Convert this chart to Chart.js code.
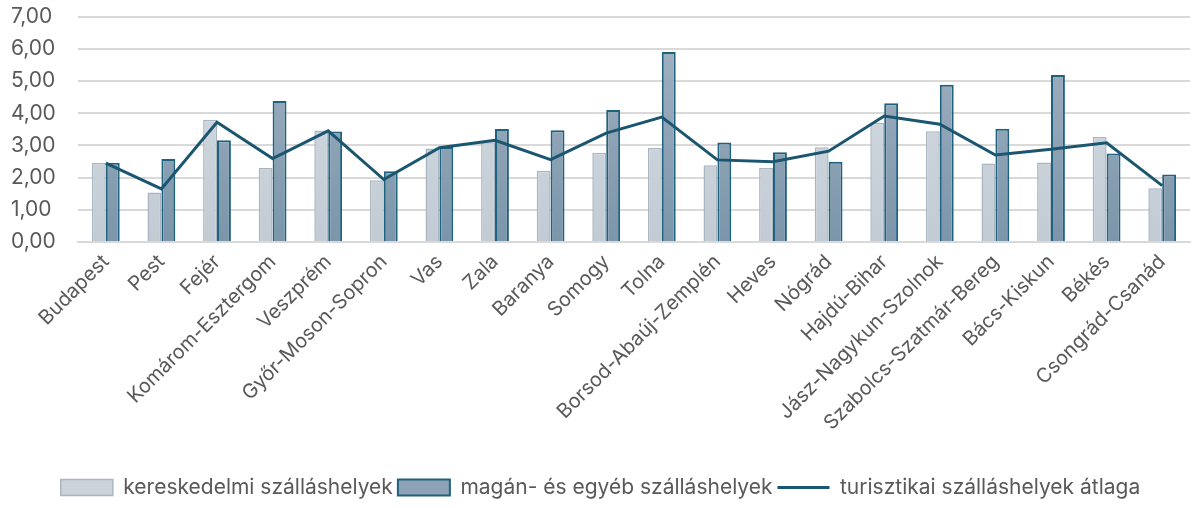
<!DOCTYPE html>
<html>
<head>
<meta charset="utf-8">
<script src="https://cdn.jsdelivr.net/npm/chart.js@4/dist/chart.umd.min.js"></script>
<style>
  html, body { margin: 0; padding: 0; background: #fff; }
  #wrap { width: 1192px; height: 508px; }
</style>
</head>
<body>
<div id="wrap"><canvas id="chart"></canvas></div>
<script>
const counties = [
  "Budapest", "Pest", "Fejér", "Komárom-Esztergom", "Veszprém", "Győr-Moson-Sopron",
  "Vas", "Zala", "Baranya", "Somogy", "Tolna", "Borsod-Abaúj-Zemplén", "Heves",
  "Nógrád", "Hajdú-Bihar", "Jász-Nagykun-Szolnok", "Szabolcs-Szatmár-Bereg",
  "Bács-Kiskun", "Békés", "Csongrád-Csanád"
];

const commercial = [2.45, 1.54, 3.80, 2.30, 3.46, 1.92, 2.90, 3.10, 2.21, 2.77,
  2.93, 2.38, 2.30, 2.94, 3.70, 3.44, 2.44, 2.47, 3.26, 1.67];
const privateOther = [2.46, 2.58, 3.16, 4.38, 3.43, 2.20, 2.95, 3.51, 3.47, 4.10,
  5.90, 3.09, 2.79, 2.49, 4.31, 4.88, 3.52, 5.19, 2.75, 2.10];
const average = [2.45, 1.65, 3.72, 2.59, 3.45, 1.94, 2.93, 3.16, 2.56, 3.38,
  3.88, 2.55, 2.49, 2.82, 3.91, 3.66, 2.70, 2.88, 3.08, 1.75];

const yTicks = [0, 1, 2, 3, 4, 5, 6, 7];

const fontFamily = "Inter, 'Open Sans', sans-serif";
const textColor = "#595959";

function gradient(ctx, top, bottom) {
  const area = ctx.chart.chartArea;
  if (!area) return bottom;
  const g = ctx.chart.ctx.createLinearGradient(0, area.top, 0, area.bottom);
  g.addColorStop(0, top);
  g.addColorStop(1, bottom);
  return g;
}

const chart = new Chart(document.getElementById("chart").getContext("2d"), {
  type: "bar",
  data: {
    labels: counties,
    datasets: [
      {
        type: "line",
        label: "turisztikai szálláshelyek átlaga",
        data: average,
        borderColor: "#1b5670",
        backgroundColor: "#1b5670",
        borderWidth: 3,
        pointRadius: 0,
        tension: 0,
        order: 0,
      },
      {
        label: "kereskedelmi szálláshelyek",
        data: commercial,
        backgroundColor: (ctx) => gradient(ctx, "#d6dce3", "#c2cbd4"),
        borderColor: "#a9b5c1",
        borderWidth: 1.5,
        order: 1,
      },
      {
        label: "magán- és egyéb szálláshelyek",
        data: privateOther,
        backgroundColor: (ctx) => gradient(ctx, "#a5b4c2", "#7b95aa"),
        borderColor: "#1e6280",
        borderWidth: 2,
        order: 1,
      },
    ],
  },
  options: {
    responsive: true,
    maintainAspectRatio: false,
    animation: false,
    layout: { padding: { left: 11, right: 2, top: 0, bottom: 0 } },
    datasets: {
      bar: { categoryPercentage: 0.5, barPercentage: 1.0 },
    },
    scales: {
      x: {
        grid: { display: false },
        border: { color: "#d9d9d9", width: 2 },
        ticks: {
          color: textColor,
          font: { family: fontFamily, size: 20 },
          maxRotation: 45,
          minRotation: 45,
          autoSkip: false,
          padding: 0,
        },
        afterFit: (scale) => {
          scale.height = 230;
        },
      },
      y: {
        min: 0,
        max: 7,
        afterBuildTicks: (axis) => {
          axis.ticks = yTicks.map((v) => ({ value: v }));
        },
        afterFit: (scale) => {
          scale.width = 67;
        },
        grid: { color: "#d9d9d9", lineWidth: 2, drawTicks: false },
        border: { display: false },
        ticks: {
          color: textColor,
          font: { family: fontFamily, size: 21 },
          padding: 4,
          crossAlign: "far",
          callback: (v) => v.toFixed(2).replace(".", ","),
        },
      },
    },
    plugins: {
      tooltip: { enabled: false },
      legend: {
        position: "bottom",
        labels: {
          color: textColor,
          font: { family: fontFamily, size: 21 },
          boxWidth: 52,
          boxHeight: 16,
          padding: 5,
          usePointStyle: true,
          pointStyleWidth: 52,
          sort: (a, b) => {
            const order = [1, 2, 0];
            return order.indexOf(a.datasetIndex) - order.indexOf(b.datasetIndex);
          },
          generateLabels: (chart) => {
            const items = Chart.defaults.plugins.legend.labels.generateLabels(chart);
            return items.map((item) => {
              if (item.datasetIndex === 0) {
                item.pointStyle = "line";
                item.strokeStyle = "#1b5670";
                item.lineWidth = 3;
              } else if (item.datasetIndex === 1) {
                item.pointStyle = "rect";
                item.fillStyle = "#ccd3db";
                item.strokeStyle = "#a9b5c1";
                item.lineWidth = 1.5;
              } else {
                item.pointStyle = "rect";
                item.fillStyle = "#8ea4b6";
                item.strokeStyle = "#1e6280";
                item.lineWidth = 2;
              }
              return item;
            });
          },
        },
      },
    },
  },
});
</script>
</body>
</html>
